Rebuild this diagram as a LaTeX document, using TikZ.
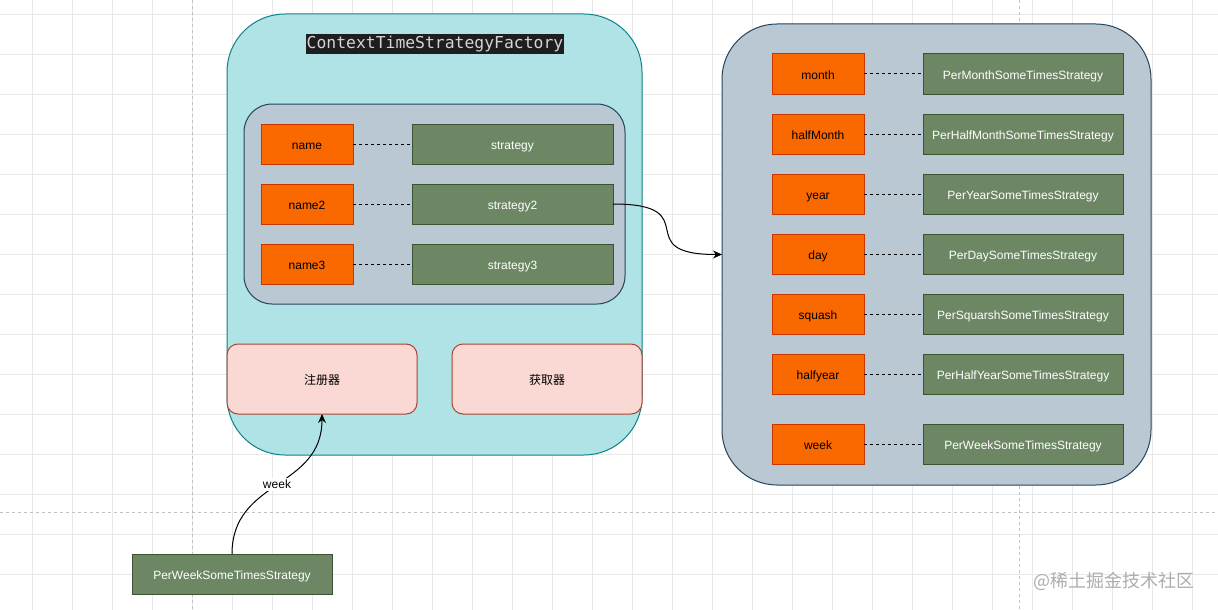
\documentclass[tikz,border=0pt]{standalone}
\usepackage{fontspec}
\setmainfont{Liberation Sans}
\newfontfamily\cjk{Noto Sans CJK SC}
\newfontfamily\monofnt{DejaVu Sans Mono}
\usetikzlibrary{arrows.meta}
\definecolor{gridc}{HTML}{E8E8E8}
\definecolor{pagec}{HTML}{C2C2C2}
\definecolor{cyanfill}{HTML}{B0E3E6}
\definecolor{cyanline}{HTML}{0E8088}
\definecolor{greyfill}{HTML}{BAC8D3}
\definecolor{greyline}{HTML}{23445D}
\definecolor{keyfill}{HTML}{FA6800}
\definecolor{keyline}{HTML}{C73500}
\definecolor{stratfill}{HTML}{6D8764}
\definecolor{stratline}{HTML}{3A5431}
\definecolor{pinkfill}{HTML}{FAD9D5}
\definecolor{pinkline}{HTML}{AE4132}
\definecolor{titlebg}{HTML}{1E1E1E}
\definecolor{titlefg}{HTML}{D4D4D4}
\definecolor{wmark}{HTML}{ADADAD}
\tikzset{
  gridline/.style={draw=gridc, line width=0.8pt},
  pageline/.style={draw=pagec, line width=0.8pt, dash pattern=on 3pt off 3pt},
  basebox/.style={inner sep=0pt, outer sep=0pt, line width=1pt, font=\fontsize{12}{14}\selectfont, text height=11pt, text depth=1pt},
  keybox/.style={basebox, draw=keyline, fill=keyfill, text=black, minimum width=92pt, minimum height=40pt},
  stratbox/.style={basebox, draw=stratline, fill=stratfill, text=white, minimum width=201pt, minimum height=40pt},
  panel/.style={basebox, draw=greyline, fill=greyfill},
  pinkbox/.style={basebox, draw=pinkline, fill=pinkfill, rounded corners=11pt, minimum width=190pt, minimum height=70pt, font=\cjk\fontsize{12}{14}\selectfont, text height=11pt, text depth=1pt},
  link/.style={line width=1pt, dash pattern=on 3pt off 3pt},
  flow/.style={line width=1pt, -{Stealth[length=9pt,width=8pt]}}
}
\begin{document}
\begin{tikzpicture}[x=1pt,y=-1pt]
\useasboundingbox[fill=white] (0,0) rectangle (1218,610);
% grid
\foreach \x in {32,72,...,1192} \draw[gridline] (\x,0) -- (\x,610);
\foreach \y in {14,54,...,574} \draw[gridline] (0,\y) -- (1218,\y);
\draw[pageline] (192,0) -- (192,610);
\draw[pageline] (1019,0) -- (1019,610);
\draw[pageline] (0,512) -- (1218,512);

% factory container
\node[basebox, draw=cyanline, fill=cyanfill, rounded corners=58pt, minimum width=415pt, minimum height=441pt] (factory) at (434.5,234.5) {};
\node[inner sep=0pt, inner xsep=1pt, minimum height=20pt, fill=titlebg, text=titlefg, font=\monofnt\fontsize{16.4}{18}\selectfont] (title) at (435,44) {ContextTimeStrategyFactory};
\node[panel, rounded corners=28pt, minimum width=381pt, minimum height=200pt] (inner) at (434.5,204) {};

\node[keybox] (n1) at (307,144) {name};
\node[keybox] (n2) at (307,204) {name2};
\node[keybox] (n3) at (307,264) {name3};
\node[stratbox] (s1) at (512.5,144) {strategy};
\node[stratbox] (s2) at (512.5,204) {strategy2};
\node[stratbox] (s3) at (512.5,264) {strategy3};
\draw[link] (n1) -- (s1);
\draw[link] (n2) -- (s2);
\draw[link] (n3) -- (s3);

\node[pinkbox] (reg) at (322,379) {注册器};
\node[pinkbox] (get) at (547,379) {获取器};

% right container
\node[panel, rounded corners=55pt, minimum width=429pt, minimum height=461pt] (rp) at (936.5,254.5) {};
\foreach \k/\s/\yy in {month/PerMonthSomeTimesStrategy/74,
                        halfMonth/PerHalfMonthSomeTimesStrategy/134,
                        year/PerYearSomeTimesStrategy/194,
                        day/PerDaySomeTimesStrategy/254,
                        squash/PerSquarshSomeTimesStrategy/314,
                        halfyear/PerHalfYearSomeTimesStrategy/374,
                        week/PerWeekSomeTimesStrategy/444}{
  \node[keybox] (k-\k) at (818,\yy) {\k};
  \node[stratbox, minimum width=200pt] (v-\k) at (1023,\yy) {\s};
  \draw[link] (k-\k) -- (v-\k);
}

% connector from strategy2 to right panel
\draw[flow] (s2.east) .. controls +(95,0) and +(-95,0) .. (rp.west);

% bottom strategy
\node[stratbox, minimum width=200pt] (pw) at (232,574) {PerWeekSomeTimesStrategy};
\draw[flow] (pw.north) .. controls +(0,-75) and +(0,75) .. node[fill=white, inner sep=1pt, font=\fontsize{12}{14}\selectfont, text height=10pt, text depth=1pt] (wk) {week} (reg.south);

% watermark
\node[text=wmark, font=\cjk\fontsize{18}{20}\selectfont, anchor=east] (wm) at (1198,581) {@稀土掘金技术社区};
\end{tikzpicture}
\end{document}
